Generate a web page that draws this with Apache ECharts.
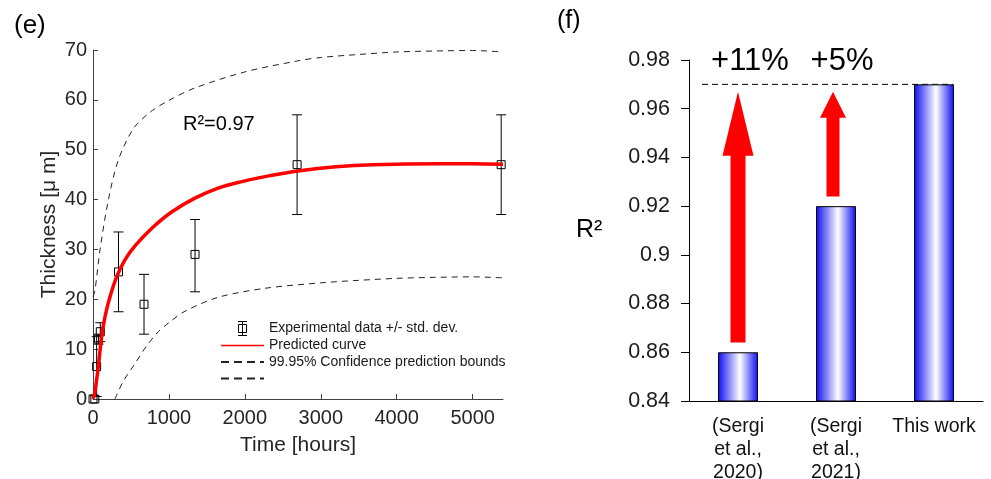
<!DOCTYPE html>
<html>
<head>
<meta charset="utf-8">
<script src="https://cdn.jsdelivr.net/npm/echarts@6/dist/echarts.min.js"></script>
<style>
    html, body { margin: 0; padding: 0; background: #fff; }
    #chart { width: 991px; height: 479px; }
</style>
</head>
<body>
<div id="chart"></div>
<script>
    // (e) experimental points: time [h], mean, lower and upper std. dev. limits
    let expTime = [0, 24, 48, 72, 96, 336, 672, 1344, 2688, 5376]
    let expMean = [0, 0, 6.5, 12, 13.5, 25.5, 19, 29, 47, 47]
    let expLow = [0, 0, 0.5, 11, 11.5, 17.5, 13, 21.5, 37, 37]
    let expHigh = [0, 0, 12.5, 13, 15.3, 33.5, 25, 36, 57, 57]

    // (e) predicted curve
    let fitTime = [0, 20, 45, 70, 114, 158, 224, 311, 421, 553, 772, 1035, 1342, 1649, 1934, 2263, 2724, 3200, 3688, 4566, 5000, 5400]
    let fitValue = [0, 1, 3.5, 6.5, 12.5, 16.5, 20.5, 24.5, 27.9, 30.7, 34.2, 37.5, 40.3, 42.3, 43.5, 44.6, 45.8, 46.6, 47.0, 47.2, 47.2, 47.1]

    // (e) 99.95% prediction bounds
    let upperTime = [0, 26, 92, 202, 333, 531, 750, 1000, 1344, 2000, 2688, 3000, 3500, 4000, 4500, 5000, 5400]
    let upperValue = [20.5, 21.8, 29.9, 39.9, 47.9, 54.2, 57.5, 59.9, 62.4, 65.6, 67.8, 68.5, 69.1, 69.6, 69.8, 69.9, 69.6]
    let lowerTime = [289, 400, 553, 700, 860, 1000, 1211, 1649, 2263, 3000, 3500, 4000, 4500, 5000, 5400]
    let lowerValue = [0, 3.6, 7.1, 10.5, 13.5, 15.3, 17.6, 20.4, 22.2, 23.3, 23.8, 24.2, 24.4, 24.5, 24.3]

    // (f) R2 comparison
    let studies = ['(Sergi\net al.,\n2020)', '(Sergi\net al.,\n2021)', 'This work']
    let r2Values = [0.86, 0.92, 0.97]
    let gainFrom = [0.864, 0.924]
    let gainTo = [0.967, 0.967]
    let gainLabels = ['+11%', '+5%']

    const FONT = 'Liberation Sans, Arial, sans-serif'

    function pairs(xs, ys) {
        let out = []
        for (let i = 0; i < xs.length; i++) out.push([xs[i], ys[i]])
        return out
    }

    let expData = []
    for (let i = 0; i < expTime.length; i++) {
        expData.push([expTime[i], expMean[i], expLow[i], expHigh[i]])
    }

    let arrowData = []
    for (let i = 0; i < gainFrom.length; i++) {
        arrowData.push([i, gainFrom[i], gainTo[i], gainLabels[i]])
    }

    let hidden = {opacity: 0}

    let option = {
        animation: false,
        textStyle: {fontFamily: FONT},
        grid: [
            {left: 93, top: 50, width: 410, height: 349, outerBoundsMode: 'none'},
            {left: 689, top: 60, width: 294, height: 341, outerBoundsMode: 'none'}
        ],
        legend: {
            left: 220,
            top: 321,
            padding: 0,
            orient: 'vertical',
            itemWidth: 43,
            itemHeight: 14,
            itemGap: 2.5,
            textStyle: {fontFamily: FONT, fontSize: 14, color: '#1a1a1a'},
            data: [
                {
                    name: 'Experimental data +/- std. dev.',
                    icon: 'path://M0 7M43 7M21.5 0L21.5 14M17 0L26 0M17 14L26 14M17.5 3L25.5 3L25.5 11L17.5 11Z',
                    itemStyle: {color: 'transparent', borderColor: '#000', borderWidth: 1}
                },
                {name: 'Predicted curve', lineStyle: {width: 1.5}, itemStyle: hidden},
                {name: '99.95% Confidence prediction bounds', lineStyle: {type: [8, 5]}, itemStyle: hidden},
                {name: ' ', lineStyle: {type: [8, 5]}, itemStyle: hidden}
            ]
        },
        graphic: [
            {type: 'text', left: 14, top: 13, style: {text: '(e)', font: '26px ' + FONT, fill: '#000'}},
            {type: 'text', left: 557, top: 9, style: {text: '(f)', font: '25px ' + FONT, fill: '#000'}},
            {type: 'text', left: 183, top: 114, style: {text: 'R²=0.97', font: '20px ' + FONT, fill: '#000'}},
            {type: 'text', left: 576, top: 218, style: {text: 'R²', font: '25px ' + FONT, fill: '#000'}}
        ],
        xAxis: [
            {
                gridIndex: 0,
                type: 'value',
                min: 0,
                max: 5400,
                interval: 1000,
                name: 'Time [hours]',
                nameLocation: 'middle',
                nameGap: 36,
                nameTextStyle: {fontSize: 21, color: '#262626', fontFamily: FONT},
                axisLine: {lineStyle: {color: '#404040'}},
                axisTick: {inside: true, length: 5, lineStyle: {color: '#404040'}},
                axisLabel: {
                    fontSize: 20, color: '#262626', margin: 9, showMaxLabel: false, fontFamily: FONT,
                    formatter: v => String(v)
                },
                splitLine: {show: false}
            },
            {
                gridIndex: 1,
                type: 'category',
                data: studies,
                axisLine: {lineStyle: {color: '#000'}},
                axisTick: {length: 10, lineStyle: {color: '#000'}},
                axisLabel: {fontSize: 19.5, lineHeight: 23, color: '#111', margin: 14, interval: 0, fontFamily: FONT}
            }
        ],
        yAxis: [
            {
                gridIndex: 0,
                type: 'value',
                min: 0,
                max: 70,
                interval: 10,
                name: 'Thickness [μ m]',
                nameLocation: 'middle',
                nameGap: 33,
                nameTextStyle: {fontSize: 21, color: '#262626', fontFamily: FONT},
                axisLine: {show: true, lineStyle: {color: '#404040'}},
                axisTick: {show: true, inside: true, length: 5, lineStyle: {color: '#404040'}},
                axisLabel: {fontSize: 20, color: '#262626', margin: 6, fontFamily: FONT},
                splitLine: {show: false}
            },
            {
                gridIndex: 1,
                type: 'value',
                min: 0.84,
                max: 0.98,
                interval: 0.02,
                axisLine: {show: true, lineStyle: {color: '#000'}},
                axisTick: {show: true, length: 8, lineStyle: {color: '#000'}},
                axisLabel: {
                    fontSize: 21.5, color: '#1a1a1a', margin: 19, fontFamily: FONT,
                    formatter: v => String(parseFloat(v.toFixed(2)))
                },
                splitLine: {show: false}
            }
        ],
        series: [
            {
                name: '99.95% Confidence prediction bounds',
                type: 'line',
                xAxisIndex: 0,
                yAxisIndex: 0,
                data: pairs(upperTime, upperValue),
                smooth: 0.3,
                symbol: 'none',
                lineStyle: {color: '#222', width: 1, type: [6, 5]},
                itemStyle: {color: '#222'}
            },
            {
                name: ' ',
                type: 'line',
                xAxisIndex: 0,
                yAxisIndex: 0,
                data: pairs(lowerTime, lowerValue),
                smooth: 0.3,
                symbol: 'none',
                lineStyle: {color: '#222', width: 1, type: [6, 5]},
                itemStyle: {color: '#222'}
            },
            {
                name: 'Predicted curve',
                type: 'line',
                xAxisIndex: 0,
                yAxisIndex: 0,
                data: pairs(fitTime, fitValue),
                smooth: 0.3,
                symbol: 'none',
                lineStyle: {color: '#ff0000', width: 3.5},
                itemStyle: {color: '#ff0000'}
            },
            {
                name: 'Experimental data +/- std. dev.',
                type: 'custom',
                xAxisIndex: 0,
                yAxisIndex: 0,
                data: expData,
                encode: {x: 0, y: [1, 2, 3]},
                itemStyle: {color: '#000'},
                renderItem: function (params, api) {
                    let x = api.value(0)
                    let p = api.coord([x, api.value(1)])
                    let pl = api.coord([x, api.value(2)])
                    let ph = api.coord([x, api.value(3)])
                    let st = {stroke: '#000', lineWidth: 1, fill: null}
                    let kids = []
                    if (api.value(3) > api.value(2)) {
                        kids.push({type: 'line', shape: {x1: p[0], y1: ph[1], x2: p[0], y2: pl[1]}, style: st})
                        kids.push({type: 'line', shape: {x1: p[0] - 5, y1: ph[1], x2: p[0] + 5, y2: ph[1]}, style: st})
                        kids.push({type: 'line', shape: {x1: p[0] - 5, y1: pl[1], x2: p[0] + 5, y2: pl[1]}, style: st})
                    }
                    kids.push({type: 'rect', shape: {x: p[0] - 4, y: p[1] - 4, width: 8, height: 8}, style: {stroke: '#000', lineWidth: 1, fill: 'rgba(0,0,0,0)'}})
                    return {type: 'group', children: kids}
                }
            },
            {
                name: 'R2',
                type: 'bar',
                xAxisIndex: 1,
                yAxisIndex: 1,
                data: r2Values,
                barWidth: 40,
                itemStyle: {
                    borderColor: '#000',
                    borderWidth: 1,
                    color: new echarts.graphic.LinearGradient(0, 0, 1, 0, [
                        {offset: 0, color: '#0c0cf0'},
                        {offset: 0.55, color: '#ffffff'},
                        {offset: 1, color: '#0c0cf0'}
                    ])
                }
            },
            {
                // dashed reference line at the best R2
                name: 'ref',
                type: 'custom',
                xAxisIndex: 1,
                yAxisIndex: 1,
                data: [[2, r2Values[2]]],
                renderItem: function (params, api) {
                    let a = api.coord([0, api.value(1)])
                    let b = api.coord([2, api.value(1)])
                    return {
                        type: 'line',
                        shape: {x1: a[0] - 36, y1: a[1], x2: b[0] + 19, y2: b[1]},
                        style: {stroke: '#000', lineWidth: 1, lineDash: [6, 4]}
                    }
                }
            },
            {
                // improvement arrows and labels
                name: 'gain',
                type: 'custom',
                xAxisIndex: 1,
                yAxisIndex: 1,
                data: arrowData,
                encode: {x: 0, y: [1, 2]},
                renderItem: function (params, api) {
                    let i = params.dataIndex
                    let headLen = [64, 26][i]
                    let shaftW = [15, 13][i]
                    let headW = [31, 26][i]
                    let cx = api.coord([api.value(0), 0.9])[0] + [0, -3][i]
                    let bottom = api.coord([0, api.value(1)])[1]
                    let tip = api.coord([0, api.value(2)])[1]
                    let base = tip + headLen
                    let top = api.coord([0, 0.98])[1] + 1
                    return {
                        type: 'group',
                        children: [
                            {
                                type: 'polygon',
                                shape: {points: [
                                    [cx - shaftW / 2, bottom], [cx + shaftW / 2, bottom],
                                    [cx + shaftW / 2, base], [cx + headW / 2, base],
                                    [cx, tip], [cx - headW / 2, base], [cx - shaftW / 2, base]
                                ]},
                                style: {fill: '#ff0000'}
                            },
                            {
                                type: 'text',
                                x: cx + [12, 9][i],
                                y: top,
                                style: {
                                    text: arrowData[i][3], font: '31px ' + FONT, fill: '#000',
                                    align: 'center', verticalAlign: 'middle'
                                }
                            }
                        ]
                    }
                }
            }
        ]
    }

    let myChart = echarts.init(document.getElementById('chart'))
    myChart.setOption(option)
</script>
</body>
</html>
